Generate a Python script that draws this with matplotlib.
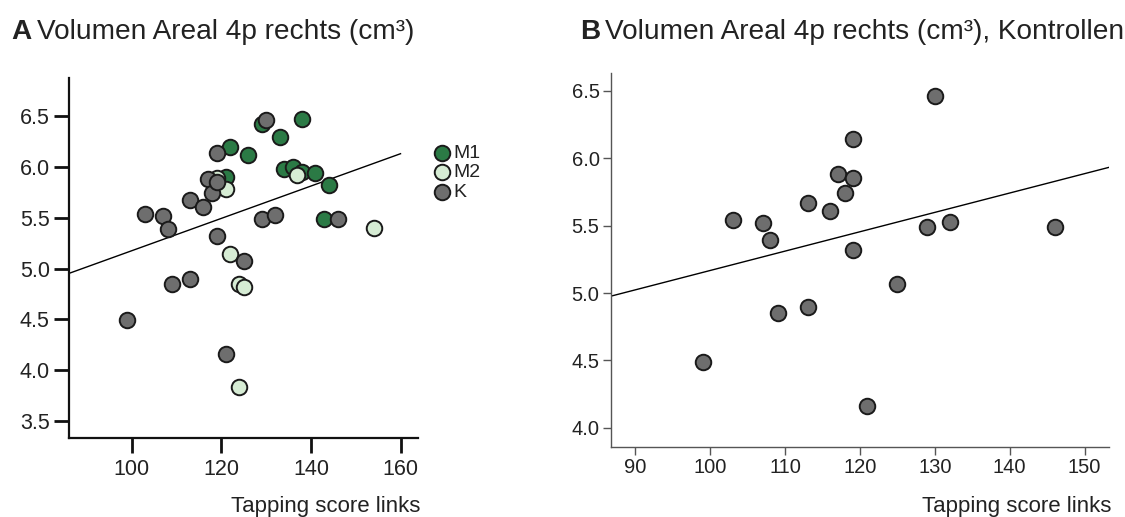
import numpy as np
import matplotlib.pyplot as plt
from matplotlib.transforms import IdentityTransform

plt.rcParams['font.family'] = ['Liberation Sans', 'DejaVu Sans']

# Panel A groups
m1_x = [122, 126, 129, 133, 138, 121, 134, 136, 138, 141, 144, 143]
m1_y = [6.20, 6.12, 6.42, 6.29, 6.47, 5.90, 5.98, 6.00, 5.95, 5.94, 5.82, 5.49]
m2_x = [119, 121, 137, 122, 124, 125, 124, 154]
m2_y = [5.89, 5.78, 5.92, 5.14, 4.85, 4.82, 3.83, 5.40]
# controls (K), also panel B
k_x = [99, 103, 107, 108, 109, 113, 113, 116, 117, 118, 119, 119, 119, 121, 125, 129, 130, 132, 146]
k_y = [4.49, 5.54, 5.52, 5.39, 4.85, 5.67, 4.90, 5.61, 5.88, 5.74, 5.85, 6.14, 5.32, 4.16, 5.07, 5.49, 6.46, 5.53, 5.49]

col_m1 = "#2b7a45"
col_m2 = "#d6ecd4"
col_k = "#6e6e6e"
txt = "#222222"

W, H = 1125, 517
fig = plt.figure(figsize=(W / 100, H / 100), dpi=100)

def box(l, t, r, b):
    return [l / W, 1 - b / H, (r - l) / W, (b - t) / H]

ms = 125

# ---------- A ----------
axA = fig.add_axes(box(69.3, 78.3, 418, 438.3))
axA.scatter(m1_x, m1_y, s=ms, c=col_m1, edgecolors="#1a1a1a", linewidths=1.4, zorder=3, label="M1")
axA.scatter(m2_x, m2_y, s=ms, c=col_m2, edgecolors="#1a1a1a", linewidths=1.4, zorder=3, label="M2")
axA.scatter(k_x, k_y, s=ms, c=col_k, edgecolors="#1a1a1a", linewidths=1.4, zorder=3, label="K")

allx = np.array(m1_x + m2_x + k_x, dtype=float)
ally = np.array(m1_y + m2_y + k_y)
b, a = np.polyfit(allx, ally, 1)
xl = np.array([86.08, 160])
axA.plot(xl, a + b * xl, color="black", lw=1.0, zorder=2)

axA.set_xlim(86.08, 163.9)
axA.set_ylim(3.33, 6.871)
axA.set_xticks([100, 120, 140, 160])
axA.set_yticks([3.5, 4.0, 4.5, 5.0, 5.5, 6.0, 6.5])
axA.yaxis.set_major_formatter(plt.FormatStrFormatter('%.1f'))
for s in ["top", "right"]:
    axA.spines[s].set_visible(False)
for s in ["left", "bottom"]:
    axA.spines[s].set_linewidth(1.6)
    axA.spines[s].set_color("#111111")
axA.tick_params(axis="y", length=11, width=2, pad=3, labelsize=15.5, colors="#111111", labelcolor=txt)
axA.tick_params(axis="x", length=11, width=2, pad=4, labelsize=15.5, colors="#111111", labelcolor=txt)

leg = axA.legend(loc="upper left", bbox_to_anchor=(431, H - 144), bbox_transform=IdentityTransform(),
                 frameon=False, fontsize=14, handletextpad=0.05, handlelength=1.1,
                 labelspacing=0.1, borderaxespad=0, borderpad=0, labelcolor=txt)

# ---------- B ----------
axB = fig.add_axes(box(610.7, 72.7, 1109.3, 446.7))
axB.scatter(k_x, k_y, s=ms, c=col_k, edgecolors="#1a1a1a", linewidths=1.4, zorder=3)
b2, a2 = np.polyfit(np.array(k_x, dtype=float), np.array(k_y), 1)
xl2 = np.array([86.7, 153.3])
axB.plot(xl2, a2 + b2 * xl2, color="black", lw=1.0, zorder=2)
axB.set_xlim(86.7, 153.3)
axB.set_ylim(3.861, 6.633)
axB.set_xticks([90, 100, 110, 120, 130, 140, 150])
axB.set_yticks([4.0, 4.5, 5.0, 5.5, 6.0, 6.5])
axB.yaxis.set_major_formatter(plt.FormatStrFormatter('%.1f'))
for s in ["top", "right"]:
    axB.spines[s].set_visible(False)
for s in ["left", "bottom"]:
    axB.spines[s].set_linewidth(1.0)
    axB.spines[s].set_color("#555555")
axB.tick_params(axis="both", length=6, width=1.0, pad=2, labelsize=14.5, colors="#555555", labelcolor=txt)

# titles: bold panel letter followed by regular text
ty = 1 - 39 / H
tfs = 20.2
tA = fig.text(11 / W, ty, "A", fontsize=tfs, fontweight="bold", color=txt, va="baseline")
tB = fig.text(580 / W, ty, "B", fontsize=tfs, fontweight="bold", color=txt, va="baseline")
fig.canvas.draw()
r = fig.canvas.get_renderer()
xA = tA.get_window_extent(r).x1
xB = tB.get_window_extent(r).x1
fig.text((xA + 6) / W, ty, "Volumen Areal 4p rechts (cm³)", fontsize=tfs, color=txt, va="baseline")
fig.text((xB + 5) / W, ty, "Volumen Areal 4p rechts (cm³), Kontrollen", fontsize=tfs, color=txt, va="baseline")

# axis labels
fig.text(420 / W, 1 - 512 / H, "Tapping score links", fontsize=16, color=txt, ha="right", va="baseline")
fig.text(1111 / W, 1 - 512 / H, "Tapping score links", fontsize=16, color=txt, ha="right", va="baseline")

fig.savefig("out.png", dpi=100)
